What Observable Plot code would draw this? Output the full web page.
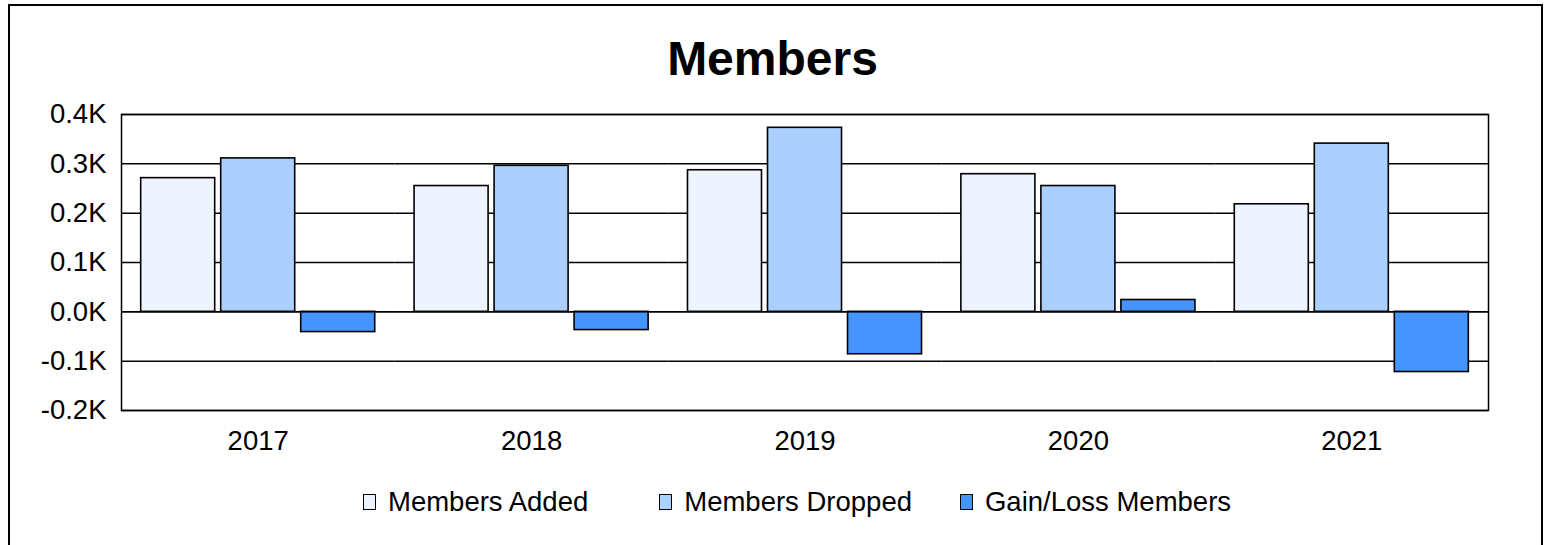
<!DOCTYPE html>
<html>
<head>
<meta charset="utf-8">
<script src="https://cdn.jsdelivr.net/npm/d3@7"></script>
<script src="https://cdn.jsdelivr.net/npm/@observablehq/plot@0.6"></script>
<style>
  html, body { margin: 0; padding: 0; background: #fff; overflow: hidden; width: 1551px; height: 545px; }
  body { position: relative; font-family: "Liberation Sans", Arial, sans-serif; color: #000; }
  #outer { position: absolute; left: 8px; top: 4px; width: 1531px; height: 700px; border: 2px solid #000; box-sizing: content-box; }
  #title { position: absolute; left: 0; width: 1545px; top: 29px; text-align: center; font-weight: bold; font-size: 48px; line-height: 60px; }
  #chart { position: absolute; left: 0; top: 90px; }
  #legend { position: absolute; left: 363px; top: 486px; display: flex; align-items: center; font-size: 27.5px; line-height: 32px; }
  .item { display: flex; align-items: center; }
  .sw { width: 11px; height: 14px; border: 1.5px solid #000; margin-right: 12px; }
</style>
</head>
<body>
<div id="outer"></div>
<div id="title">Members</div>
<div id="chart"></div>
<div id="legend"></div>
<script>
const years = ["2017", "2018", "2019", "2020", "2021"];
const seriesNames = ["Members Added", "Members Dropped", "Gain/Loss Members"];
const membersAdded = [271, 255, 287, 279, 218];
const membersDropped = [311, 296, 373, 255, 341];
const gainLoss = [-41, -37, -86, 24, -122];
const seriesColors = ["#EDF4FF", "#ABCFFF", "#4594FF"];
const yTicks = [-200, -100, 0, 100, 200, 300, 400];

const seriesValues = [membersAdded, membersDropped, gainLoss];
const rows = [];
years.forEach((year, i) => {
  seriesNames.forEach((s, j) => rows.push({year, series: s, value: seriesValues[j][i]}));
});

const chart = Plot.plot({
  width: 1551,
  height: 380,
  marginTop: 24,
  marginBottom: 60,
  marginLeft: 121,
  marginRight: 63,
  style: {fontFamily: "'Liberation Sans', Arial, sans-serif", fontSize: "27.5px", color: "#000", background: "transparent"},
  fx: {domain: years, padding: 0, round: false, label: null, axis: "bottom", tickSize: 0, tickPadding: 20},
  x: {domain: seriesNames, paddingInner: 0.075, paddingOuter: 0.246, round: false, axis: null},
  y: {domain: [-200, 400], ticks: yTicks, tickFormat: d => (d / 1000).toFixed(1) + "K", label: null, tickSize: 0, tickPadding: 15},
  color: {domain: seriesNames, range: seriesColors},
  marks: [
    Plot.ruleY(yTicks, {stroke: "#000", strokeWidth: 1.5}),
    Plot.barY(rows, {fx: "year", x: "series", y: "value", fill: "series", stroke: "#000", strokeWidth: 1.6}),
    Plot.ruleY([0], {stroke: "#000", strokeWidth: 1.5}),
    Plot.frame({facet: "super", stroke: "#000", strokeWidth: 1.5})
  ]
});
document.getElementById("chart").appendChild(chart);

const legend = document.getElementById("legend");
const gaps = [71, 48, 0];
seriesNames.forEach((s, i) => {
  const item = document.createElement("div");
  item.className = "item";
  item.style.marginRight = gaps[i] + "px";
  const sw = document.createElement("div");
  sw.className = "sw";
  sw.style.background = seriesColors[i];
  const label = document.createElement("span");
  label.textContent = s;
  item.appendChild(sw);
  item.appendChild(label);
  legend.appendChild(item);
});
</script>
</body>
</html>
